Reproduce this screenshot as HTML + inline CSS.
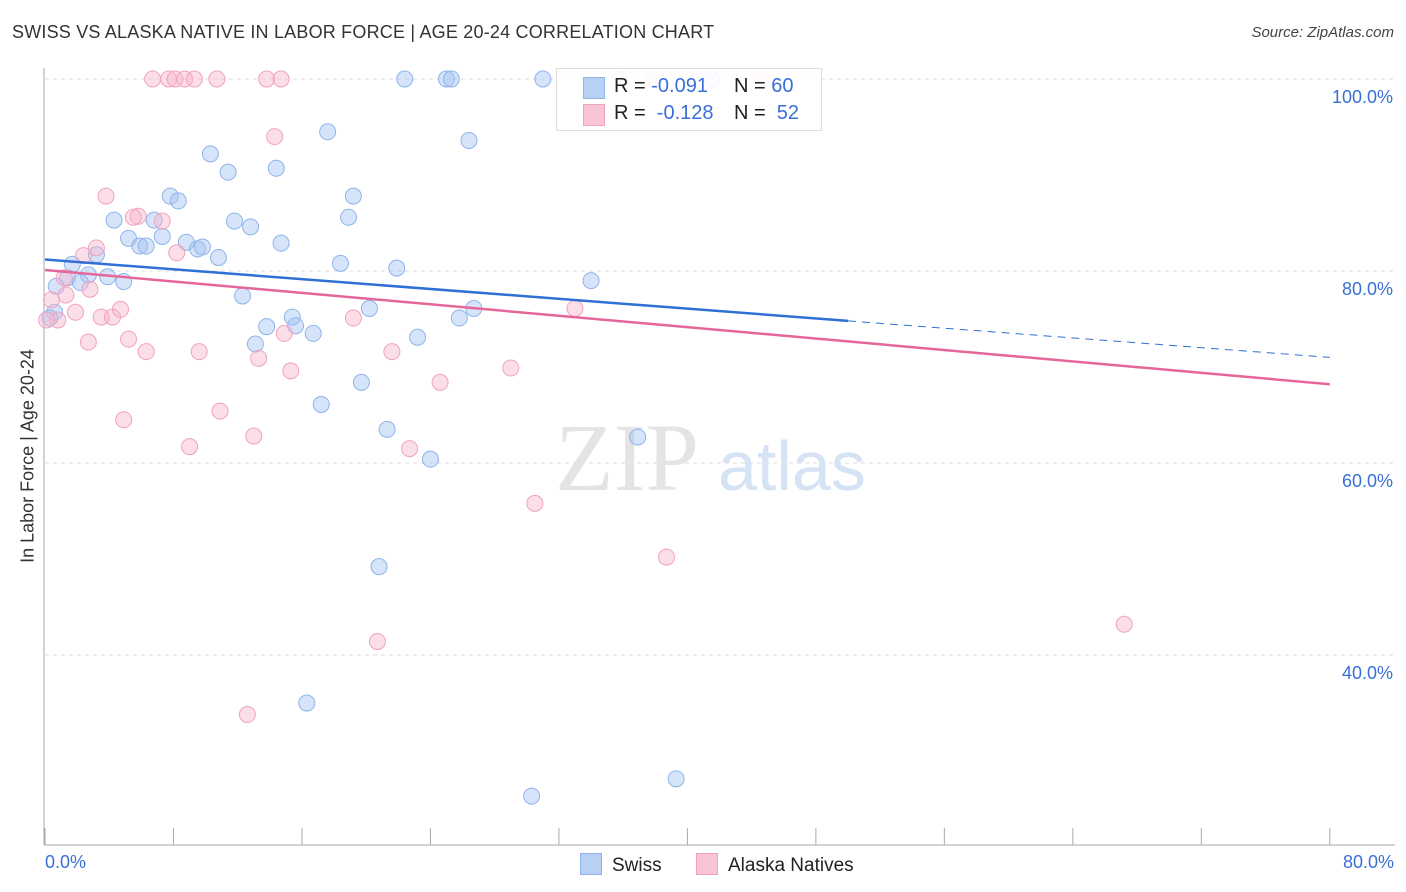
<!DOCTYPE html>
<html><head><meta charset="utf-8"><style>
body{margin:0;background:#fff;font-family:"Liberation Sans",sans-serif;}
#wrap{position:relative;width:1406px;height:892px;overflow:hidden}
</style></head><body>
<div id="wrap">
<svg id="svg" width="1406" height="892"></svg>
</div>
<script>
const swissX=[22.4,25.0,25.3,31.0,35.8,41.5,17.6,26.4,10.3,11.4,14.4,7.8,8.3,19.2,4.3,6.8,11.8,12.8,18.9,5.2,5.9,6.3,7.3,8.8,9.5,9.8,14.7,10.8,3.2,1.7,1.4,0.7,2.7,3.9,2.2,4.9,18.4,21.9,34.0,12.3,0.6,0.3,20.2,26.7,15.4,25.8,13.8,15.6,16.7,23.2,13.1,19.7,17.2,21.3,24.0,36.9,20.8,16.3,39.3,30.3];
const swissY=[100,100,100,100,100,100,94.5,93.6,92.2,90.3,90.7,87.8,87.3,87.8,85.3,85.3,85.2,84.6,85.6,83.4,82.6,82.6,83.6,83.0,82.3,82.5,82.9,81.4,81.7,80.7,79.3,78.4,79.6,79.4,78.8,78.9,80.8,80.3,79.0,77.4,75.7,75.1,76.1,76.1,75.2,75.1,74.2,74.3,73.5,73.1,72.4,68.4,66.1,63.5,60.4,62.7,49.2,35.0,27.1,25.3];
const akX=[6.7,7.7,8.1,8.7,9.3,10.7,13.8,14.7,37.8,44.6,14.3,3.8,5.8,5.5,7.3,3.2,8.2,2.4,1.2,1.3,2.8,1.9,3.5,4.2,4.7,0.4,0.8,0.1,19.2,2.7,5.2,6.3,9.6,13.3,14.9,21.6,15.3,29.0,24.6,33.0,10.9,4.9,13.0,9.0,22.7,30.5,38.7,67.2,20.7,12.6];
const akY=[100,100,100,100,100,100,100,100,100,100,94.0,87.8,85.7,85.6,85.2,82.4,81.9,81.6,79.3,77.5,78.1,75.7,75.2,75.2,76.0,77.0,74.9,74.9,75.1,72.6,72.9,71.6,71.6,70.9,73.5,71.6,69.6,69.9,68.4,76.1,65.4,64.5,62.8,61.7,61.5,55.8,50.2,43.2,41.4,33.8];
const swissTrend=[[0,81.2],[50,74.8],[80,71.0]];
const akTrend=[[0,80.1],[80,68.2]];
const yTicks=[100,80,60,40];
const yTickLabels=["100.0%","80.0%","60.0%","40.0%"];

const NS="http://www.w3.org/2000/svg";
const svg=document.getElementById('svg');
const xs=v=>45+v*16.06;
const ys=v=>79+(100-v)*9.6;
function mk(t,a,p){const e=document.createElementNS(NS,t);for(const k in a)e.setAttribute(k,a[k]);(p||svg).appendChild(e);return e;}
// grid
yTicks.forEach((t,i)=>{
 const g=mk('line',{x1:45,x2:1395,y1:ys(t),y2:ys(t),stroke:'#ddd','stroke-dasharray':'4,4'});
 
 
 const tx=mk('text',{x:1393,y:ys(t)+24,'text-anchor':'end','font-size':18,fill:'#3a6fd8'});
 tx.textContent=yTickLabels[i];
 
 
});
// axes
mk('line',{x1:44,x2:44,y1:68,y2:845,stroke:'#aaa'});
mk('line',{x1:44,x2:1395,y1:845,y2:845,stroke:'#aaa'});
for(let i=0;i<=10;i++){
 const t=mk('line',{x1:xs(i*8),x2:xs(i*8),y1:828,y2:845,stroke:'#aaa'});
 
 
}
// watermark
const wm=mk('text',{x:555,y:490,'font-size':96,fill:'#e4e4e4','font-family':'Liberation Serif, serif'});wm.textContent='ZIP';


const wm2=mk('text',{x:718,y:490,'font-size':70,fill:'#d6e3f5'});wm2.textContent='atlas';
// points
function pts(X,Y,fill,stroke,name){X.forEach((x,i)=>{const c=mk('circle',{cx:xs(x),cy:ys(Y[i]),r:8,fill:fill,stroke:stroke,'stroke-width':1});
 
 });}
pts(swissX,swissY,'rgba(164,196,244,0.45)','#8fb3ea','swiss-point');
pts(akX,akY,'rgba(248,182,204,0.45)','#efa3bd','alaska-native-point');
// trends
const b=mk('line',{x1:xs(swissTrend[0][0]),y1:ys(swissTrend[0][1]),x2:xs(swissTrend[1][0]),y2:ys(swissTrend[1][1]),stroke:'#2f6fd6','stroke-width':2.5});


const bd=mk('line',{x1:xs(swissTrend[1][0]),y1:ys(swissTrend[1][1]),x2:xs(swissTrend[2][0]),y2:ys(swissTrend[2][1]),stroke:'#2f6fd6','stroke-width':1,'stroke-dasharray':'8,6'});


const p=mk('line',{x1:xs(akTrend[0][0]),y1:ys(akTrend[0][1]),x2:xs(akTrend[1][0]),y2:ys(akTrend[1][1]),stroke:'#e5679a','stroke-width':2.5});


</script>
<div style="position:absolute;left:12px;top:22px;font-size:18px;color:#333;letter-spacing:0.2px">SWISS VS ALASKA NATIVE IN LABOR FORCE | AGE 20-24 CORRELATION CHART</div>
<div style="position:absolute;right:12px;top:24px;font-size:15px;color:#444;font-style:italic">Source: ZipAtlas.com</div>
<div style="position:absolute;left:28px;top:456px;transform:translate(-50%,-50%) rotate(-90deg);font-size:18px;color:#333;white-space:nowrap">In Labor Force | Age 20-24</div>
<div style="position:absolute;left:45px;top:852px;font-size:18px;color:#3a6fd8">0.0%</div>
<div style="position:absolute;right:12px;top:852px;font-size:18px;color:#3a6fd8">80.0%</div>
<div style="position:absolute;left:556px;top:68px;width:264px;height:61px;border:1px solid #ddd;background:rgba(255,255,255,0.9);font-size:20px;color:#222">
 <div style="position:absolute;left:26px;top:8px;width:20px;height:20px;background:#b9d0f5;border:1px solid #8fb3ea"></div>
 <div style="position:absolute;left:57px;top:6px">R = <span style="color:#3a6fd8">-0.091</span></div>
 <div style="position:absolute;left:177px;top:6px">N = <span style="color:#3a6fd8">60</span></div>
 <div style="position:absolute;left:26px;top:35px;width:20px;height:20px;background:#f9c5d6;border:1px solid #efa3bd"></div>
 <div style="position:absolute;left:57px;top:33px">R = &nbsp;<span style="color:#3a6fd8">-0.128</span></div>
 <div style="position:absolute;left:177px;top:33px">N = &nbsp;<span style="color:#3a6fd8">52</span></div>
</div>
<div style="position:absolute;left:580px;top:853px;font-size:19px;color:#222">
 <span style="display:inline-block;width:20px;height:20px;background:#b9d0f5;border:1px solid #8fb3ea;vertical-align:-4px;margin-right:10px"></span>Swiss</div>
<div style="position:absolute;left:696px;top:853px;font-size:19px;color:#222">
 <span style="display:inline-block;width:20px;height:20px;background:#f9c5d6;border:1px solid #efa3bd;vertical-align:-4px;margin-right:10px"></span>Alaska Natives</div>
</body></html>
